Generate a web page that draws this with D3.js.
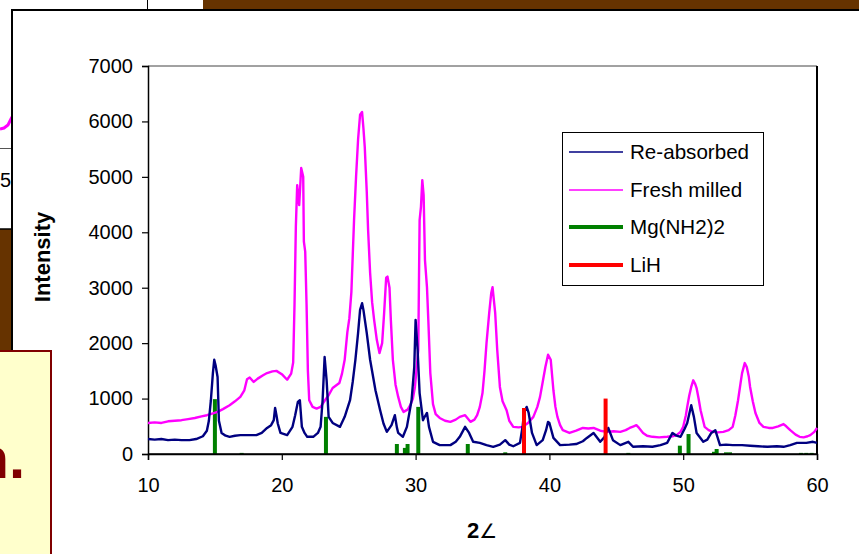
<!DOCTYPE html>
<html><head><meta charset="utf-8">
<script src="https://cdn.jsdelivr.net/npm/d3@7"></script>
<style>body{margin:0;background:#fff}svg{display:block;font-family:"Liberation Sans",Arial,sans-serif}</style>
</head><body><svg id="c" width="859" height="554"></svg>
<script>
// ---- data ----
const xTicks = [10,20,30,40,50,60];
const yTicks = [0,1000,2000,3000,4000,5000,6000,7000];
const seriesNames = ["Re-absorbed","Fresh milled","Mg(NH2)2","LiH"];
const seriesColors = ["#000080","#FF00FF","#008000","#FF0000"];

const reAbsorbed = [
[10.0,270],[10.5,260],[11.0,270],[11.5,250],[12.0,260],[12.5,250],[13.1,250],[13.6,270],[14.1,320],[14.4,420],[14.55,600],[14.7,970],[14.85,1460],[14.95,1700],[15.05,1600],[15.2,1390],[15.3,600],[15.5,380],[15.8,330],[16.1,310],[16.5,330],[16.9,340],[17.5,340],[18.1,340],[18.5,380],[18.9,470],[19.2,520],[19.4,610],[19.5,830],[19.6,700],[19.7,550],[19.9,380],[20.4,340],[20.8,490],[21.0,700],[21.2,940],[21.35,970],[21.5,490],[21.7,380],[21.9,310],[22.35,310],[22.7,380],[22.9,490],[23.05,970],[23.2,1750],[23.35,1330],[23.5,670],[23.8,560],[24.35,490],[24.7,670],[25.1,970],[25.3,1300],[25.5,1700],[25.7,2180],[25.85,2600],[26.0,2720],[26.1,2600],[26.35,2180],[26.6,1700],[27.0,1150],[27.35,790],[27.6,550],[27.85,400],[28.2,520],[28.45,700],[28.6,480],[28.7,380],[29.05,310],[29.35,490],[29.7,970],[29.9,1570],[30.0,2420],[30.15,1880],[30.3,1100],[30.55,610],[30.7,680],[30.85,740],[31.0,490],[31.3,220],[31.8,160],[32.6,160],[33.0,220],[33.3,310],[33.7,490],[34.0,380],[34.3,220],[34.8,200],[35.3,160],[35.8,130],[36.3,170],[36.7,250],[37.0,170],[37.3,140],[37.8,200],[38.0,500],[38.1,740],[38.3,850],[38.45,740],[38.7,380],[39.05,160],[39.5,250],[39.75,430],[39.9,580],[40.0,560],[40.3,290],[40.8,160],[41.5,170],[42.0,180],[42.5,230],[42.8,290],[43.3,380],[43.8,220],[44.1,300],[44.4,470],[44.75,250],[45.3,160],[45.9,220],[46.25,130],[47.0,140],[47.7,130],[48.3,160],[48.8,200],[49.2,380],[49.5,330],[49.8,310],[50.1,450],[50.3,560],[50.6,880],[50.8,670],[51.0,380],[51.5,220],[51.8,260],[52.1,380],[52.4,430],[52.75,160],[53.2,170],[53.7,160],[54.4,160],[55.0,150],[55.6,140],[56.3,130],[57.0,140],[57.5,130],[58.0,160],[58.5,200],[59.2,200],[59.7,220],[60.0,200]
];

const freshMilled = [
[10.0,560],[10.5,570],[11.0,560],[11.5,590],[12.0,600],[12.5,610],[13.0,630],[13.5,650],[14.0,680],[14.4,700],[14.8,730],[15.2,760],[15.6,810],[16.1,880],[16.5,950],[16.9,1030],[17.2,1150],[17.4,1350],[17.6,1380],[17.9,1300],[18.2,1360],[18.6,1420],[18.9,1460],[19.3,1490],[19.6,1500],[20.0,1440],[20.4,1340],[20.7,1450],[20.85,1650],[20.95,2690],[21.05,4100],[21.15,4850],[21.3,4490],[21.45,5160],[21.6,5000],[21.65,3830],[21.75,3650],[21.85,2700],[21.95,1500],[22.05,970],[22.3,850],[22.6,820],[22.9,850],[23.2,960],[23.5,1060],[23.8,1190],[24.3,1280],[24.5,1450],[24.7,1700],[24.9,2200],[25.05,2450],[25.2,2920],[25.4,4220],[25.55,5000],[25.7,5670],[25.85,6120],[26.0,6170],[26.1,5880],[26.2,5540],[26.35,4730],[26.45,4040],[26.6,3270],[26.75,2740],[26.9,2420],[27.1,2060],[27.3,1820],[27.5,2000],[27.65,2550],[27.8,3180],[27.9,3200],[28.05,3000],[28.15,2420],[28.3,1700],[28.5,1250],[28.7,1030],[28.9,850],[29.1,760],[29.4,800],[29.6,880],[29.8,1000],[29.95,1210],[30.1,1600],[30.2,1880],[30.25,3090],[30.3,4220],[30.4,4460],[30.5,4940],[30.6,4670],[30.7,3500],[30.85,3010],[30.95,2420],[31.1,1460],[31.3,900],[31.5,720],[31.8,650],[32.2,600],[32.6,580],[33.0,620],[33.3,670],[33.7,700],[34.1,580],[34.4,620],[34.6,700],[34.8,850],[35.0,1100],[35.15,1500],[35.3,2000],[35.5,2540],[35.65,2900],[35.75,3010],[35.95,2540],[36.1,1880],[36.3,1210],[36.5,950],[36.8,790],[37.0,600],[37.3,490],[37.7,480],[38.0,490],[38.4,560],[38.8,670],[39.1,850],[39.3,1030],[39.5,1300],[39.7,1570],[39.9,1790],[40.1,1700],[40.3,1150],[40.45,850],[40.6,670],[40.8,520],[41.0,430],[41.5,380],[42.0,420],[42.5,470],[42.9,460],[43.3,470],[43.8,420],[44.3,400],[44.8,410],[45.3,400],[45.7,430],[46.0,470],[46.3,500],[46.5,520],[46.7,470],[47.0,380],[47.3,330],[47.7,310],[48.2,300],[48.8,310],[49.2,320],[49.5,340],[49.8,400],[50.0,490],[50.2,700],[50.3,850],[50.45,1050],[50.6,1210],[50.75,1330],[50.9,1260],[51.0,1190],[51.15,1000],[51.3,790],[51.6,490],[51.9,430],[52.2,400],[52.6,390],[53.0,400],[53.4,430],[53.7,490],[53.9,700],[54.1,970],[54.3,1300],[54.4,1460],[54.6,1640],[54.75,1570],[54.9,1400],[55.0,1210],[55.2,950],[55.4,740],[55.7,560],[56.0,490],[56.4,470],[56.7,470],[57.1,500],[57.5,540],[57.7,500],[58.0,430],[58.4,350],[58.7,310],[59.0,300],[59.3,320],[59.5,340],[59.8,400],[60.0,470]
];

const mgNH2Refs = [[15.0,990],[17.0,20],[23.3,670],[28.6,180],[29.2,110],[29.4,180],[30.2,850],[33.9,180],[36.7,30],[45.9,20],[49.75,150],[50.4,360],[52.3,40],[52.5,90],[53.2,30],[53.5,30],[58.8,20],[59.2,20],[59.6,20]];
const liHRefs = [[38.1,830],[44.2,1000]];

// ---- drawing ----
const svg = d3.select("#c");
const W = 859, H = 554;
const plot = {left:148, right:817, top:66, bottom:454};

// slide background decorations
svg.append("rect").attr("x",0).attr("y",0).attr("width",W).attr("height",H).attr("fill","#fff");
svg.append("rect").attr("x",203).attr("y",0).attr("width",W-203).attr("height",11).attr("fill","#663300");
svg.append("line").attr("x1",147.5).attr("x2",147.5).attr("y1",0).attr("y2",10).attr("stroke","#000").attr("stroke-width",1);
svg.append("rect").attr("x",0).attr("y",229).attr("width",12).attr("height",124).attr("fill","#663300");
svg.append("line").attr("x1",0).attr("x2",12).attr("y1",148.5).attr("y2",148.5).attr("stroke","#555").attr("stroke-width",1);
svg.append("line").attr("x1",0).attr("x2",12).attr("y1",229).attr("y2",229).attr("stroke","#000").attr("stroke-width",1.5);
svg.append("text").attr("x",11).attr("y",187).attr("text-anchor","end").attr("font-size",20).text("5");
svg.append("path").attr("d","M0,129 L4,128 L8,125 L12,117").attr("fill","none").attr("stroke","#FF00FF").attr("stroke-width",3);

// chart frame
svg.append("rect").attr("x",12).attr("y",10).attr("width",W).attr("height",H).attr("fill","#fff").attr("stroke","#000").attr("stroke-width",2);

const x = d3.scaleLinear().domain([10,60]).range([plot.left,plot.right]);
const y = d3.scaleLinear().domain([0,7000]).range([plot.bottom,plot.top]);

// plot area border
svg.append("line").attr("x1",plot.left).attr("x2",plot.right).attr("y1",plot.top).attr("y2",plot.top).attr("stroke","#444").attr("stroke-width",1);
svg.append("line").attr("x1",plot.right).attr("x2",plot.right).attr("y1",plot.top).attr("y2",plot.bottom).attr("stroke","#000").attr("stroke-width",2);

// axes
const yAxis = d3.axisLeft(y).tickValues(yTicks).tickSize(6).tickPadding(9).tickFormat(d3.format("d"));
const gy = svg.append("g").attr("transform",`translate(${plot.left},0)`).call(yAxis);
const xAxis = d3.axisBottom(x).tickValues(xTicks).tickSize(6).tickPadding(18).tickFormat(d3.format("d"));
const gx = svg.append("g").attr("transform",`translate(0,${plot.bottom})`).call(xAxis);
[gx,gy].forEach(g=>{
  g.selectAll("path.domain").attr("stroke","#000").attr("stroke-width",1.5);
  g.selectAll(".tick line").attr("stroke","#000").attr("stroke-width",1.2);
  g.selectAll("text").attr("font-size",20).attr("font-family","'Liberation Sans',Arial,sans-serif").attr("fill","#000");
});
gx.selectAll("text").attr("dy","0.71em");

// axis titles
svg.append("text").attr("transform","translate(50,257) rotate(-90)").attr("text-anchor","middle")
  .attr("font-size",22).attr("font-weight","bold").text("Intensity");
const xt = svg.append("text").attr("x",482).attr("y",538).attr("text-anchor","middle").attr("font-size",22);
xt.append("tspan").attr("font-weight","bold").text("2");
xt.append("tspan").attr("font-family","'DejaVu Sans',sans-serif").attr("font-size",20).text("∠");

// reference bars
svg.append("g").selectAll("line").data(mgNH2Refs).join("line")
  .attr("x1",d=>x(d[0])).attr("x2",d=>x(d[0])).attr("y1",y(0)).attr("y2",d=>y(d[1]))
  .attr("stroke",seriesColors[2]).attr("stroke-width",4);

// curves
const line = d3.line().x(d=>x(d[0])).y(d=>y(d[1])).curve(d3.curveLinear);
svg.append("path").datum(freshMilled).attr("d",line).attr("fill","none").attr("stroke",seriesColors[1]).attr("stroke-width",2.4).attr("stroke-linejoin","round");
svg.append("path").datum(reAbsorbed).attr("d",line).attr("fill","none").attr("stroke",seriesColors[0]).attr("stroke-width",2.4).attr("stroke-linejoin","round");

svg.append("g").selectAll("line").data(liHRefs).join("line")
  .attr("x1",d=>x(d[0])).attr("x2",d=>x(d[0])).attr("y1",y(0)).attr("y2",d=>y(d[1]))
  .attr("stroke",seriesColors[3]).attr("stroke-width",4);

// redraw bottom axis line on top
svg.append("line").attr("x1",plot.left).attr("x2",plot.right).attr("y1",plot.bottom).attr("y2",plot.bottom).attr("stroke","#000").attr("stroke-width",1.5);

// legend
const lg = svg.append("g");
lg.append("rect").attr("x",562.5).attr("y",132.5).attr("width",201).attr("height",153).attr("fill","#fff").attr("stroke","#000").attr("stroke-width",1);
const ly = [152,190,227,265];
const lw = [1.5,1.5,4,4];
seriesNames.forEach((n,i)=>{
  lg.append("line").attr("x1",569).attr("x2",623).attr("y1",ly[i]).attr("y2",ly[i]).attr("stroke",seriesColors[i]).attr("stroke-width",lw[i]);
  lg.append("text").attr("x",630).attr("y",ly[i]).attr("dy","0.35em").attr("font-size",20.6).text(n);
});

// overlapping slide box
svg.append("rect").attr("x",-2).attr("y",351).attr("width",53).attr("height",220).attr("fill","#FFFFCC").attr("stroke","#800000").attr("stroke-width",2);
svg.append("text").attr("x",25).attr("y",478).attr("text-anchor","end").attr("font-size",58).attr("font-weight","bold").attr("fill","#800000").text("n.");
</script></body></html>
